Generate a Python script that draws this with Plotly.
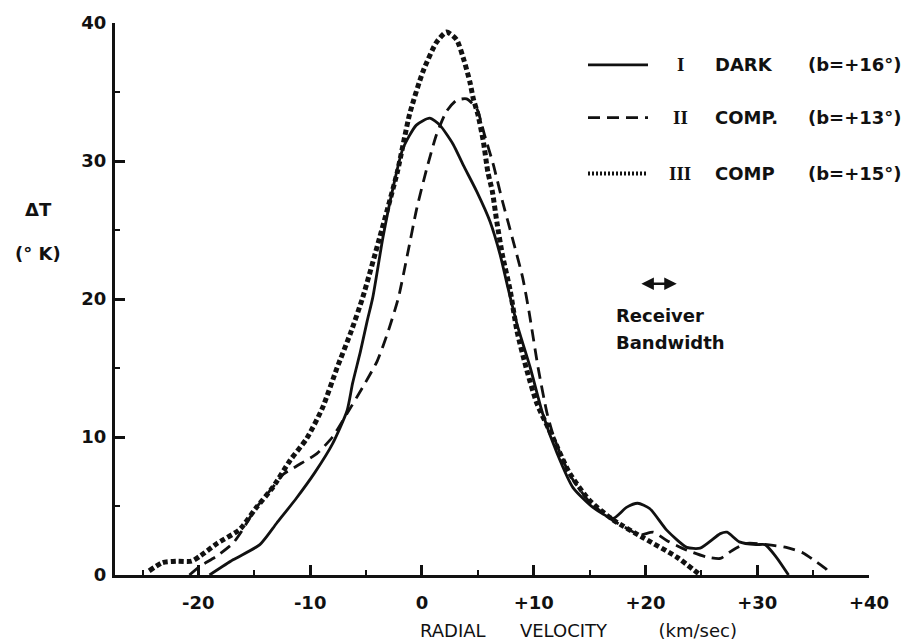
import plotly.graph_objects as go

# ---- data ----
v_dark = [-19.0, -16.9, -14.5, -13.0, -11.2, -9.6, -8.0, -6.7, -6.2, -5.5, -4.9, -4.4, -3.5, -2.6, -1.7,
          -0.5, 0.7, 1.6, 2.8, 3.7, 4.9, 6.1, 7.0, 7.7, 8.5, 9.7, 10.8, 12.1, 13.5, 15.3, 17.1, 18.3,
          19.3, 20.4, 21.9, 23.7, 24.9, 26.7, 27.3, 28.4, 29.9, 30.7, 31.7, 32.8]
t_dark = [0.0, 1.1, 2.2, 3.75, 5.6, 7.4, 9.5, 11.9, 13.9, 16.2, 18.4, 20.1, 24.4, 28.0, 30.9,
          32.6, 33.1, 32.6, 31.2, 29.7, 27.8, 25.6, 23.2, 20.8, 18.2, 15.0, 11.7, 8.8, 6.35, 4.9, 4.1, 4.9,
          5.2, 4.8, 3.25, 2.0, 1.95, 3.0, 3.1, 2.4, 2.2, 2.2, 1.3, 0.0]

v_comp2 = [-20.8, -19.9, -18.3, -16.9, -16.1, -14.9, -13.3, -12.4, -11.2, -9.4, -8.0, -6.7, -5.3, -4.0,
           -3.0, -2.1, -1.3, -0.45, 0.45, 1.3, 2.2, 3.1, 4.0, 4.9, 5.6, 6.4, 7.2, 8.1, 9.0, 9.6, 10.4,
           11.2, 11.8, 13.2, 15.0, 17.0, 18.5, 19.5, 20.7, 21.9, 23.7, 25.5, 26.7, 27.8, 29.1, 30.9,
           32.6, 34.1, 35.3, 36.2, 36.5]
t_comp2 = [0.0, 0.6, 1.4, 2.3, 3.2, 4.8, 6.4, 7.3, 7.9, 8.8, 10.0, 11.7, 13.6, 15.5,
           17.7, 20.1, 23.2, 26.6, 29.5, 31.9, 33.6, 34.4, 34.5, 33.8, 31.9, 29.7, 27.1, 24.4, 21.6, 19.0, 15.0,
           11.7, 10.0, 7.3, 5.3, 4.0, 3.3, 2.9, 3.1, 2.5, 1.8, 1.3, 1.2, 1.8, 2.3, 2.2,
           2.0, 1.6, 0.95, 0.4, 0.0]

v_comp3 = [-24.4, -23.2, -22.0, -20.6, -19.8, -18.3, -16.3, -14.9, -13.3, -11.8, -10.3, -8.9, -7.6, -6.4,
           -5.3, -3.8, -2.2, -1.1, 0.1, 1.3, 2.2, 3.1, 3.8, 4.3, 4.6, 5.0, 5.5, 5.9, 6.3, 6.7, 7.2, 7.9,
           8.5, 9.4, 10.3, 11.7, 13.2, 15.0, 17.1, 19.8, 22.8, 24.9]
t_comp3 = [0.3, 0.9, 1.0, 1.0, 1.4, 2.3, 3.3, 4.8, 6.4, 8.3, 9.9, 12.1, 15.0, 17.5,
           20.1, 24.4, 29.2, 33.4, 36.5, 38.6, 39.35, 38.8, 37.2, 35.7, 34.5, 33.4, 31.4, 29.2, 27.8, 25.6, 23.2, 20.6,
           17.7, 14.8, 12.4, 10.0, 7.4, 5.4, 4.0, 2.7, 1.3, 0.0]

x_tickvals = [-20, -10, 0, 10, 20, 30, 40]
x_ticktext = ["-20", "-10", "0", "+10", "+20", "+30", "+40"]
y_tickvals = [0, 10, 20, 30, 40]
y_ticktext = ["0", "10", "20", "30", "40"]

legend_numerals = ["I", "II", "III"]
legend_names = ["DARK", "COMP.", "COMP"]
legend_lat = ["(b=+16°)", "(b=+13°)", "(b=+15°)"]

bandwidth_from, bandwidth_to, bandwidth_level = 19.5, 22.8, 21.1

# ---- figure ----
W, H = 904, 641
L, T = 115, 21
R = W - 869
B = H - 575
PW, PH = W - L - R, H - T - B
FONT = "DejaVu Sans"
INK = "#111111"


def px(xp):
    return (xp - L) / PW


def py(yp):
    return (H - B - yp) / PH


def label(x, y, text, size=18, bold=True, xanchor="center", family=FONT):
    f = dict(family=family, size=size, color=INK)
    if bold:
        f["weight"] = "bold"
    return dict(x=px(x), y=py(y), xref="paper", yref="paper", text=text, showarrow=False,
                xanchor=xanchor, yanchor="middle", font=f)


fig = go.Figure()
fig.add_trace(go.Scatter(x=v_dark, y=t_dark, mode="lines",
                         line=dict(color=INK, width=2.8, shape="spline", smoothing=0.6),
                         showlegend=False, hoverinfo="skip"))
fig.add_trace(go.Scatter(x=v_comp2, y=t_comp2, mode="lines",
                         line=dict(color=INK, width=2.8, dash="12px,7px", shape="spline", smoothing=0.6),
                         showlegend=False, hoverinfo="skip"))
fig.add_trace(go.Scatter(x=v_comp3, y=t_comp3, mode="lines",
                         line=dict(color=INK, width=5, dash="5px,3px", shape="spline", smoothing=0.6),
                         showlegend=False, hoverinfo="skip"))

axis_common = dict(showline=True, linecolor=INK, linewidth=3, showgrid=False, zeroline=False,
                   ticks="inside", tickcolor=INK, tickwidth=2.5, ticklen=10,
                   tickfont=dict(family=FONT, size=18, color=INK, weight="bold"))

fig.update_xaxes(range=[-27.46, 40], tickvals=x_tickvals, ticktext=x_ticktext,
                 minor=dict(ticks="inside", dtick=5, tick0=0, ticklen=5, tickwidth=2, tickcolor=INK),
                 ticklabelstandoff=9, **axis_common)
fig.update_yaxes(range=[0, 40], tickvals=y_tickvals, ticktext=y_ticktext,
                 minor=dict(ticks="inside", dtick=5, tick0=0, ticklen=5, tickwidth=2, tickcolor=INK),
                 ticklabelstandoff=2, **axis_common)

ann = []
ann.append(label(578, 631, "RADIAL      VELOCITY         (km/sec)", size=18, bold=False))
ann.append(label(38, 208, "ΔT"))
ann.append(label(38, 252, "(° K)"))

rows_y = [63, 116, 172]
shapes = []
dashes = ["solid", "12px,7px", "2px,2px"]
widths = [2.6, 2.6, 4]
for i in range(3):
    yy = py(rows_y[i])
    shapes.append(dict(type="line", xref="paper", yref="paper", x0=px(588), x1=px(648), y0=yy, y1=yy,
                       line=dict(color=INK, width=widths[i], dash=dashes[i])))
    ann.append(label(680, rows_y[i], legend_numerals[i], size=19, family="Liberation Serif"))
    ann.append(label(713, rows_y[i], legend_names[i], xanchor="left"))
    ann.append(label(806, rows_y[i], legend_lat[i], xanchor="left"))

ann.append(dict(x=bandwidth_to, y=bandwidth_level, ax=bandwidth_from, ay=bandwidth_level,
                xref="x", yref="y", axref="x", ayref="y", text="", showarrow=True,
                arrowhead=2, arrowside="end+start", arrowsize=1, arrowwidth=2.5, arrowcolor=INK))
ann.append(label(614, 315, "Receiver", xanchor="left"))
ann.append(label(614, 342, "Bandwidth", xanchor="left"))

fig.update_layout(width=W, height=H, margin=dict(l=L, r=R, t=T, b=B),
                  paper_bgcolor="white", plot_bgcolor="white",
                  annotations=ann, shapes=shapes, showlegend=False)

fig.write_html("out.html", config={"displayModeBar": False},
               post_script="document.body.style.margin='0';document.body.style.overflow='hidden';")
